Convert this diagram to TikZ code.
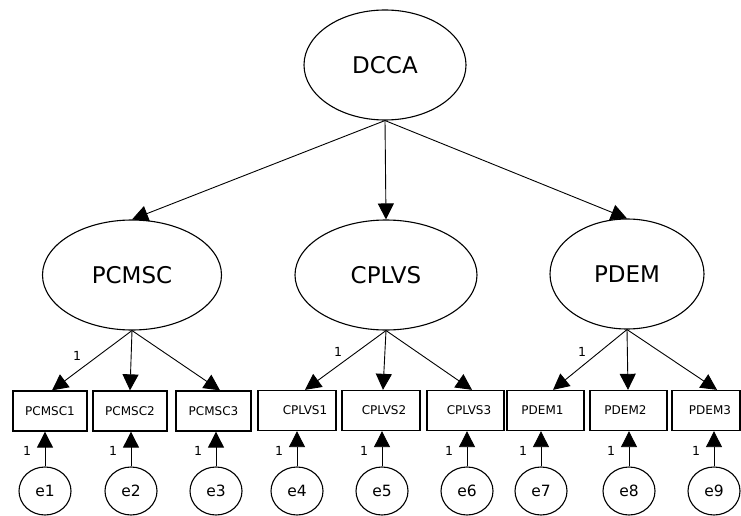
\documentclass[tikz,border=0pt]{standalone}
\usepackage{fontspec}
\setmainfont{DejaVu Sans}
\usetikzlibrary{shapes.geometric,arrows.meta}
\tikzset{
  latent/.style={ellipse, draw, line width=1.1pt, inner sep=0pt,
                 minimum width=#1, minimum height=110pt, font=\fontsize{23}{23}\selectfont},
  errvar/.style={ellipse, draw, line width=1.1pt, inner sep=0pt,
                 minimum width=52pt, minimum height=48pt, font=\fontsize{15.5}{15.5}\selectfont},
  indicator/.style={rectangle, draw, line width=1.3pt, inner sep=0pt,
                 minimum width=#1, minimum height=40pt, font=\fontsize{12}{12}\selectfont},
  regpath/.style={line width=0.9pt, -{Triangle[length=16pt,width=16pt]}},
  wlab/.style={font=\fontsize{12.5}{12.5}\selectfont, inner sep=0pt},
}
\begin{document}
\begin{tikzpicture}[x=1pt,y=-1pt]
\useasboundingbox (0,0) rectangle (741,516);

% second-order factor
\node[latent=162pt] (dcca) at (385,65) {DCCA};

% first-order factors
\node[latent=179pt] (pcmsc) at (132,275) {PCMSC};
\node[latent=182pt] (cplvs) at (386,275) {CPLVS};
\node[latent=154pt] (pdem)  at (627,274) {PDEM};

% observed indicators
\node[indicator=74pt] (b1) at (50,411)  {PCMSC1};
\node[indicator=74pt] (b2) at (130,411) {PCMSC2};
\node[indicator=75pt] (b3) at (213.5,411) {PCMSC3};
\node[indicator=78pt] (b4) at (297,410.5) {\hspace*{16pt}CPLVS1};
\node[indicator=78pt] (b5) at (381,410.5) {\hspace*{6pt}CPLVS2};
\node[indicator=77pt] (b6) at (465.5,410.5) {\hspace*{7pt}CPLVS3};
\node[indicator=77pt] (b7) at (545.5,410.5) {PDEM1\hspace*{6pt}};
\node[indicator=77pt] (b8) at (628.5,410.5) {\raisebox{-1.5pt}{PDEM2}\hspace*{6pt}};
\node[indicator=68pt] (b9) at (706,410.5) {\raisebox{1.5pt}{PDEM3}\hspace*{-8pt}};

% error terms
\node[errvar] (e1) at (45,491)  {e1};
\node[errvar] (e2) at (131,491) {e2};
\node[errvar] (e3) at (216,491) {e3};
\node[errvar] (e4) at (297,491) {e4};
\node[errvar] (e5) at (382,491) {e5};
\node[errvar] (e6) at (467,491) {e6};
\node[errvar] (e7) at (541,491) {e7};
\node[errvar] (e8) at (629,491) {e8};
\node[errvar] (e9) at (714,491) {e9};

% structural paths
\draw[regpath] (dcca.south) -- (pcmsc.north);
\draw[regpath] (dcca.south) -- (cplvs.north);
\draw[regpath] (dcca.south) -- (pdem.north);

% measurement paths
\draw[regpath] (pcmsc.south) -- (52,0 |- b1.north);
\draw[regpath] (pcmsc.south) -- (b2.north);
\draw[regpath] (pcmsc.south) -- (220,0 |- b3.north);
\draw[regpath] (cplvs.south) -- (305,0 |- b4.north);
\draw[regpath] (cplvs.south) -- (383,0 |- b5.north);
\draw[regpath] (cplvs.south) -- (472,0 |- b6.north);
\draw[regpath] (pdem.south) -- (553,0 |- b7.north);
\draw[regpath] (pdem.south) -- (628,0 |- b8.north);
\draw[regpath] (pdem.south) -- (717,0 |- b9.north);

% fixed loadings
\node[wlab] (l1) at (77,356) {1};
\node[wlab] (l2) at (338,352) {1};
\node[wlab] (l3) at (582,352) {1};

% error paths with fixed weights
\foreach \e/\b in {e1/b1,e2/b2,e3/b3,e4/b4,e5/b5,e6/b6,e7/b7,e8/b8,e9/b9}{
  \draw[regpath] (\e.north) -- (\e.north |- \b.south);
  \node[wlab] at ([xshift=-18pt]\e.north |- 0,451) {1};
}
\end{tikzpicture}
\end{document}
